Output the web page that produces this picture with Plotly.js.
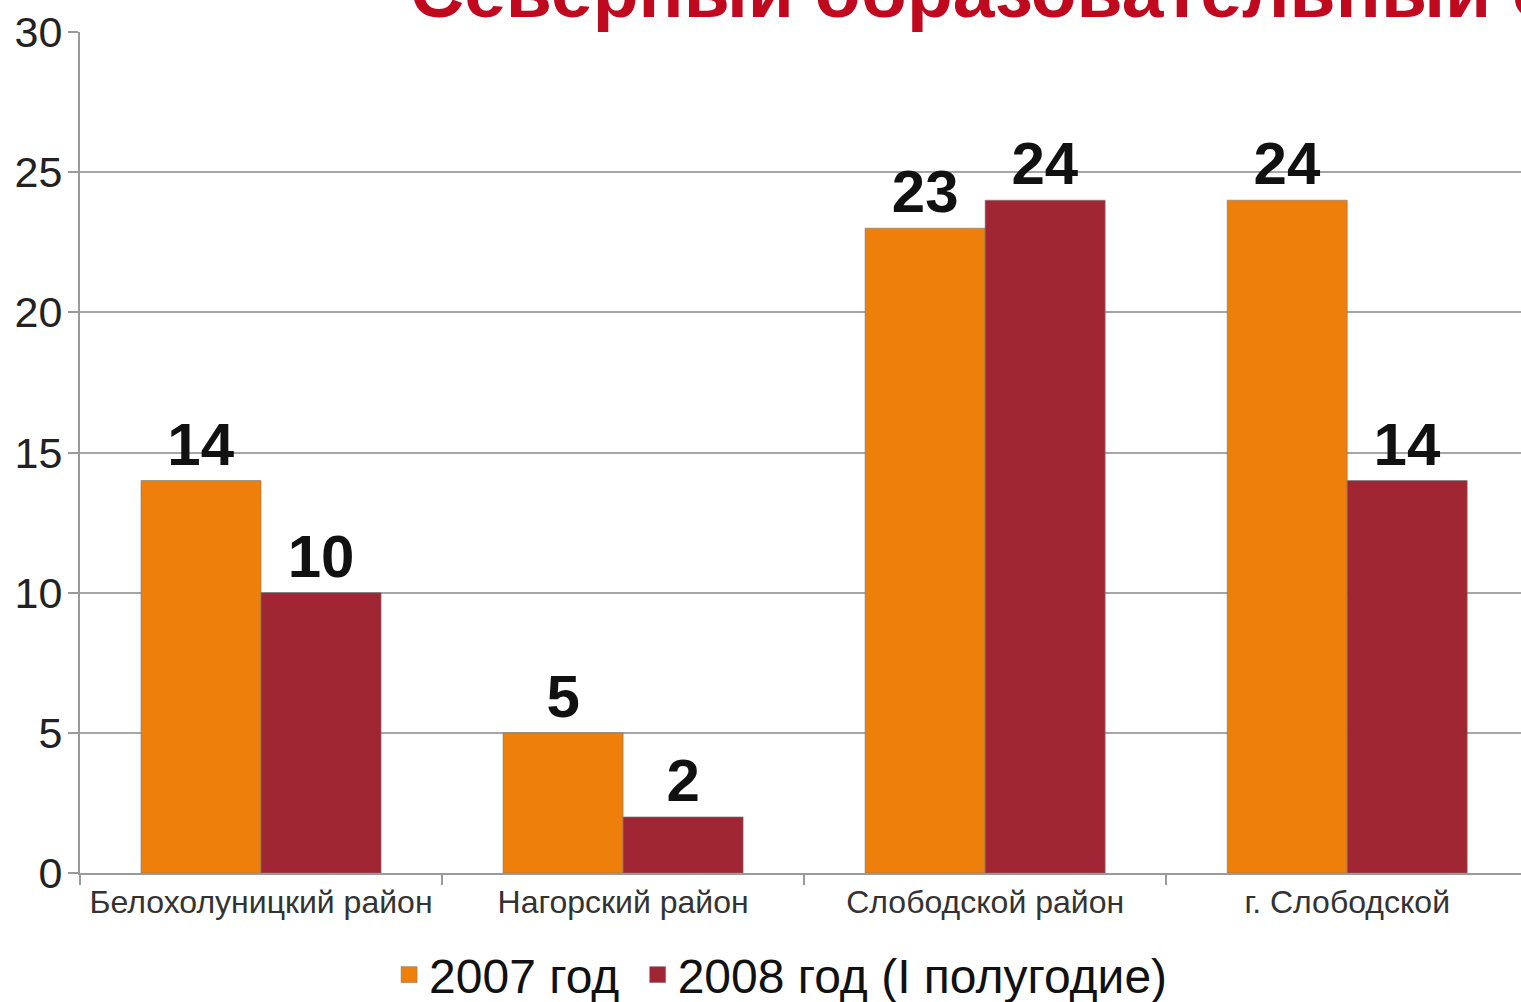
<!DOCTYPE html>
<html>
<head>
<meta charset="utf-8">
<script src="https://cdn.plot.ly/plotly-3.0.1.min.js"></script>
<style>
html,body{margin:0;padding:0;background:#fff;overflow:hidden;}
#chart{width:1521px;height:1002px;}
</style>
</head>
<body>
<div id="chart"></div>
<script>
const categories = ["Белохолуницкий район", "Нагорский район", "Слободской район", "г. Слободской"];
const series2007 = [14, 5, 23, 24];
const series2008 = [10, 2, 24, 14];
const seriesNames = ["2007 год", "2008 год (I полугодие)"];
const titleText = "Северный образовательный округ";
const yTicks = [0, 5, 10, 15, 20, 25, 30];

const FONT = "Liberation Sans, Arial, sans-serif";
const COLORS = ["#EE7F0B", "#A12634"];
const barLine = {color: "rgba(120,120,120,0.6)", width: 1};
const labelFont = {family: FONT, size: 60, color: "#111", weight: "bold"};

const traces = [
  {
    type: "bar", name: seriesNames[0], x: categories, y: series2007, showlegend: false,
    marker: {color: COLORS[0], line: barLine},
    text: series2007.map(String), textposition: "outside", cliponaxis: false, textfont: labelFont
  },
  {
    type: "bar", name: seriesNames[1], x: categories, y: series2008, showlegend: false,
    marker: {color: COLORS[1], line: barLine},
    text: series2008.map(String), textposition: "outside", cliponaxis: false, textfont: labelFont
  },
  // legend entries (larger square swatches, no data drawn)
  {
    type: "scatter", mode: "markers", name: seriesNames[0] + "\u00A0", x: [null], y: [null],
    marker: {symbol: "square", size: 17, color: COLORS[0], line: {color: "rgba(120,120,120,0.5)", width: 1}}
  },
  {
    type: "scatter", mode: "markers", name: seriesNames[1], x: [null], y: [null],
    marker: {symbol: "square", size: 17, color: COLORS[1], line: {color: "rgba(120,120,120,0.5)", width: 1}}
  }
];

const layout = {
  width: 1521, height: 1002,
  margin: {l: 80, r: 0, t: 32, b: 129, autoexpand: false},
  paper_bgcolor: "#fff", plot_bgcolor: "#fff",
  font: {family: FONT, color: "#222"},
  barmode: "group", bargap: 0.337, bargroupgap: 0,
  showlegend: true,
  legend: {
    orientation: "h", x: 0.2145, xanchor: "left", y: -0.076, yanchor: "top",
    font: {family: FONT, size: 48, color: "#111"},
    traceorder: "normal"
  },
  xaxis: {
    type: "category", range: [-0.5, 3.48], automargin: false,
    showgrid: false, zeroline: false,
    showline: true, linecolor: "#9a9a9a", linewidth: 2,
    ticks: "outside", tickson: "boundaries", ticklen: 10, tickcolor: "#9a9a9a", tickwidth: 2,
    tickfont: {family: FONT, size: 32, color: "#333"}
  },
  yaxis: {
    range: [0, 30], tickvals: yTicks, ticktext: yTicks.map(String), automargin: false,
    showgrid: true, gridcolor: "#a6a6a6", gridwidth: 2,
    zeroline: false,
    showline: true, linecolor: "#9a9a9a", linewidth: 2,
    ticks: "outside", ticklen: 10, tickcolor: "#9a9a9a", tickwidth: 2,
    ticklabelstandoff: -3,
    tickfont: {family: FONT, size: 43, color: "#222"}
  },
  annotations: [{
    text: "<b>" + titleText + "</b>",
    xref: "paper", yref: "paper",
    x: (408 - 80) / 1441, xanchor: "left",
    y: (873 - 35) / 841, yanchor: "bottom",
    showarrow: false,
    font: {family: FONT, size: 75, color: "#C0081E"}
  }]
};

Plotly.newPlot("chart", traces, layout, {displayModeBar: false, staticPlot: true});
</script>
</body>
</html>
